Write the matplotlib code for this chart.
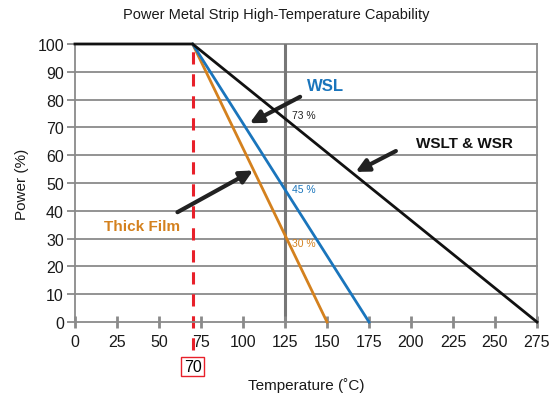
import matplotlib
matplotlib.use('Agg')
import matplotlib.pyplot as plt

plt.rcParams['font.family'] = ['Liberation Sans', 'DejaVu Sans']

# derating curves: (temperature, power %)
wslt_temp = [0, 70, 275]
wslt_power = [100, 100, 0]
wsl_temp = [70, 175]
wsl_power = [100, 0]
thick_temp = [70, 150]
thick_power = [100, 0]

x_ticks = list(range(0, 276, 25))
y_ticks = list(range(0, 101, 10))
ref_temp = 125
knee_temp = 70
pct_labels = ['73 %', '45 %', '30 %']
pct_y = [74.5, 48, 28.5]

grey = '#8a8a8a'
blue = '#1a75bc'
orange = '#d4811e'
red = '#e8202a'

fig = plt.figure(figsize=(5.53, 4.06), dpi=100)
ax = fig.add_axes([75/553, 1-323/406, 462/553, 278/406])
ax.set_xlim(0, 275)
ax.set_ylim(0, 100)

# grid lines
for y in y_ticks[1:]:
    ax.axhline(y, color=grey, lw=1.3, zorder=1, clip_on=False)
ax.axvline(ref_temp, color='#777777', lw=2.2, zorder=1)
ax.axvline(275, color=grey, lw=1.3, zorder=1, clip_on=False)

for s in ['top', 'right']:
    ax.spines[s].set_visible(False)
for s in ['left', 'bottom']:
    ax.spines[s].set_color(grey)
    ax.spines[s].set_linewidth(1.3)

ax.plot([knee_temp, knee_temp], [-10, 100], color=red, lw=2.2,
        ls=(0, (4, 3.2)), zorder=2, clip_on=False)
ax.plot(thick_temp, thick_power, color=orange, lw=2, zorder=3, clip_on=False)
ax.plot(wsl_temp, wsl_power, color=blue, lw=2, zorder=3, clip_on=False)
ax.plot(wslt_temp, wslt_power, color='#111111', lw=2, zorder=4, clip_on=False)

ax.set_xticks(x_ticks)
ax.set_yticks(y_ticks)
ax.tick_params(axis='x', direction='inout', length=9, width=2, color=grey,
               labelsize=11.5, pad=4, labelcolor='#1a1a1a')
ax.tick_params(axis='y', direction='out', length=6, width=1.3, color=grey,
               labelsize=11.5, pad=2, labelcolor='#1a1a1a')

for lab, yy, c in zip(pct_labels, pct_y, ['#222222', blue, orange]):
    ax.text(ref_temp + 4, yy, lab, color=c, fontsize=7.5, va='center', ha='left')

arrow = dict(arrowstyle='-|>', lw=3, color='#222222', mutation_scale=19,
             shrinkA=0, shrinkB=0)
ax.text(149, 85, 'WSL', color=blue, fontsize=12, fontweight='bold', ha='center', va='center')
ax.annotate('', xy=(104, 71.5), xytext=(134, 81), arrowprops=arrow)
ax.text(232, 64.5, 'WSLT & WSR', color='#111111', fontsize=11, fontweight='bold',
        ha='center', va='center')
ax.annotate('', xy=(167, 54), xytext=(191, 61.5), arrowprops=arrow)
ax.text(40, 34.5, 'Thick Film', color=orange, fontsize=11, fontweight='bold',
        ha='center', va='center')
ax.annotate('', xy=(106, 54.5), xytext=(61, 39.5), arrowprops=arrow)

# boxed 70 under the axis
ax.text(knee_temp, -16, '70', fontsize=11.5, ha='center', va='center',
        bbox=dict(boxstyle='square,pad=0.15', fc='white', ec=red, lw=1))

ax.set_xlabel('Temperature (˚C)', fontsize=11, labelpad=20, color='#1a1a1a')
ax.set_ylabel('Power (%)', fontsize=11, labelpad=6, color='#1a1a1a')
fig.text(0.5, 1 - 15/406, 'Power Metal Strip High-Temperature Capability',
         ha='center', va='center', fontsize=10.5, color='#1a1a1a')

fig.savefig('out.png', dpi=100)
